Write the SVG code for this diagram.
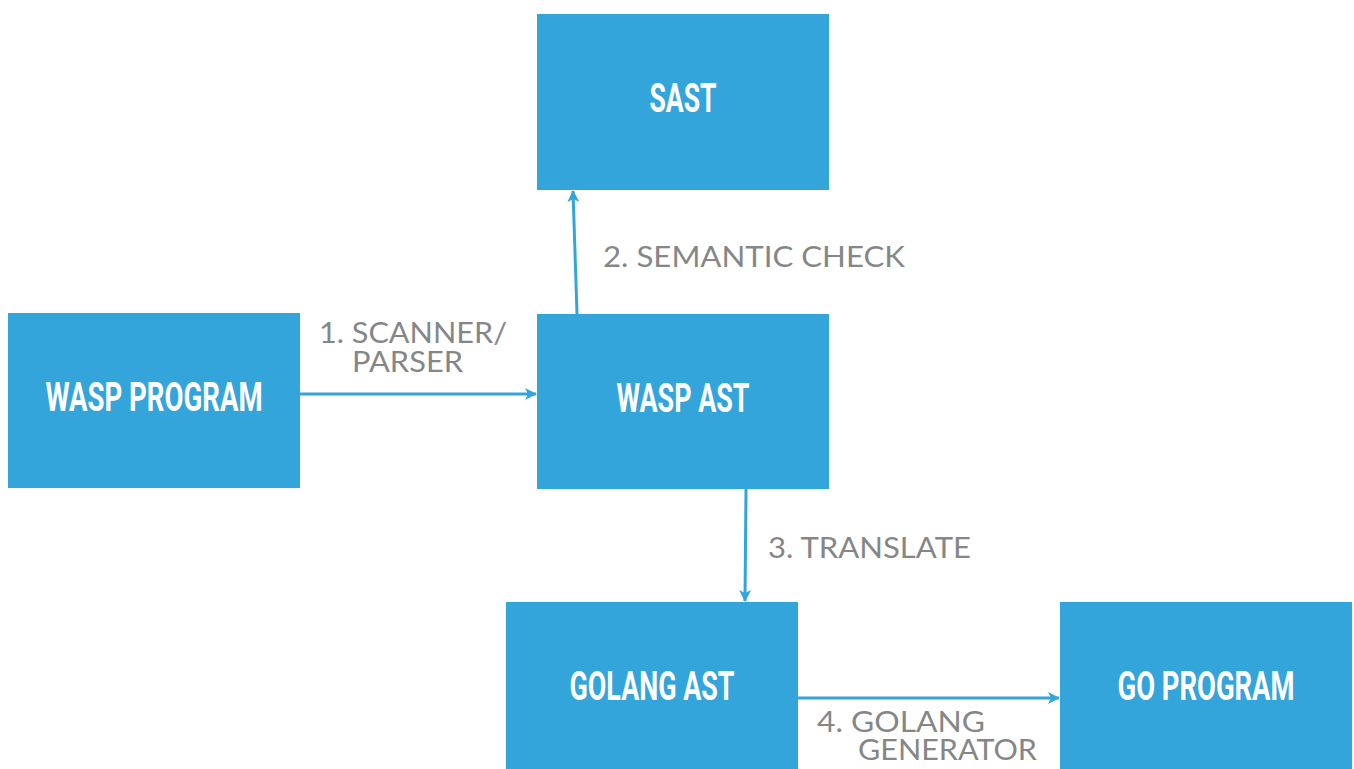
<svg xmlns="http://www.w3.org/2000/svg" width="1354" height="769" viewBox="0 0 1354 769">
<defs>
<style>
.box{fill:#34a5db;}
.bt{fill:#fff;font-family:"Roboto","Liberation Sans",sans-serif;font-weight:bold;font-size:40px;text-anchor:middle;}
.lb{fill:#858787;font-family:"Lato","Open Sans",sans-serif;font-size:29px;}
.cn{stroke:#34a5db;stroke-width:3;fill:none;}
</style>
<marker id="ah" viewBox="0 0 12 12" refX="11" refY="6" markerWidth="12" markerHeight="12" markerUnits="userSpaceOnUse" orient="auto">
<path d="M0,0 L12,6 L0,12 L3,6 Z" fill="#34a5db"/>
</marker>
</defs>
<rect width="1354" height="769" fill="#fff"/>
<g id="connectors">
<line class="cn" x1="300" y1="394" x2="536" y2="394" marker-end="url(#ah)"/>
<line class="cn" x1="577" y1="314" x2="573" y2="191" marker-end="url(#ah)"/>
<line class="cn" x1="746" y1="489" x2="745" y2="601" marker-end="url(#ah)"/>
<line class="cn" x1="798" y1="698" x2="1059" y2="698" marker-end="url(#ah)"/>
</g>
<g id="labels">
<text class="lb" x="319" y="343" textLength="188" lengthAdjust="spacingAndGlyphs">1. SCANNER/</text>
<text class="lb" x="352" y="372" textLength="111" lengthAdjust="spacingAndGlyphs">PARSER</text>
<text class="lb" x="603" y="267" textLength="302" lengthAdjust="spacingAndGlyphs">2. SEMANTIC CHECK</text>
<text class="lb" x="768" y="558" textLength="203" lengthAdjust="spacingAndGlyphs">3. TRANSLATE</text>
<text class="lb" x="817" y="732" textLength="168" lengthAdjust="spacingAndGlyphs">4. GOLANG</text>
<text class="lb" x="858" y="760" textLength="179" lengthAdjust="spacingAndGlyphs">GENERATOR</text>
</g>
<g id="wasp-program">
<rect class="box" x="8" y="313" width="292" height="175"/>
<text class="bt" x="154" y="411" textLength="217" lengthAdjust="spacingAndGlyphs">WASP PROGRAM</text>
</g>
<g id="sast">
<rect class="box" x="537" y="14" width="292" height="176"/>
<text class="bt" x="683" y="112" textLength="67" lengthAdjust="spacingAndGlyphs">SAST</text>
</g>
<g id="wasp-ast">
<rect class="box" x="537" y="314" width="292" height="175"/>
<text class="bt" x="683" y="412" textLength="133" lengthAdjust="spacingAndGlyphs">WASP AST</text>
</g>
<g id="golang-ast">
<rect class="box" x="506" y="602" width="292" height="167"/>
<text class="bt" x="652" y="700" textLength="165" lengthAdjust="spacingAndGlyphs">GOLANG AST</text>
</g>
<g id="go-program">
<rect class="box" x="1060" y="602" width="292" height="167"/>
<text class="bt" x="1206" y="700" textLength="177" lengthAdjust="spacingAndGlyphs">GO PROGRAM</text>
</g>
</svg>
